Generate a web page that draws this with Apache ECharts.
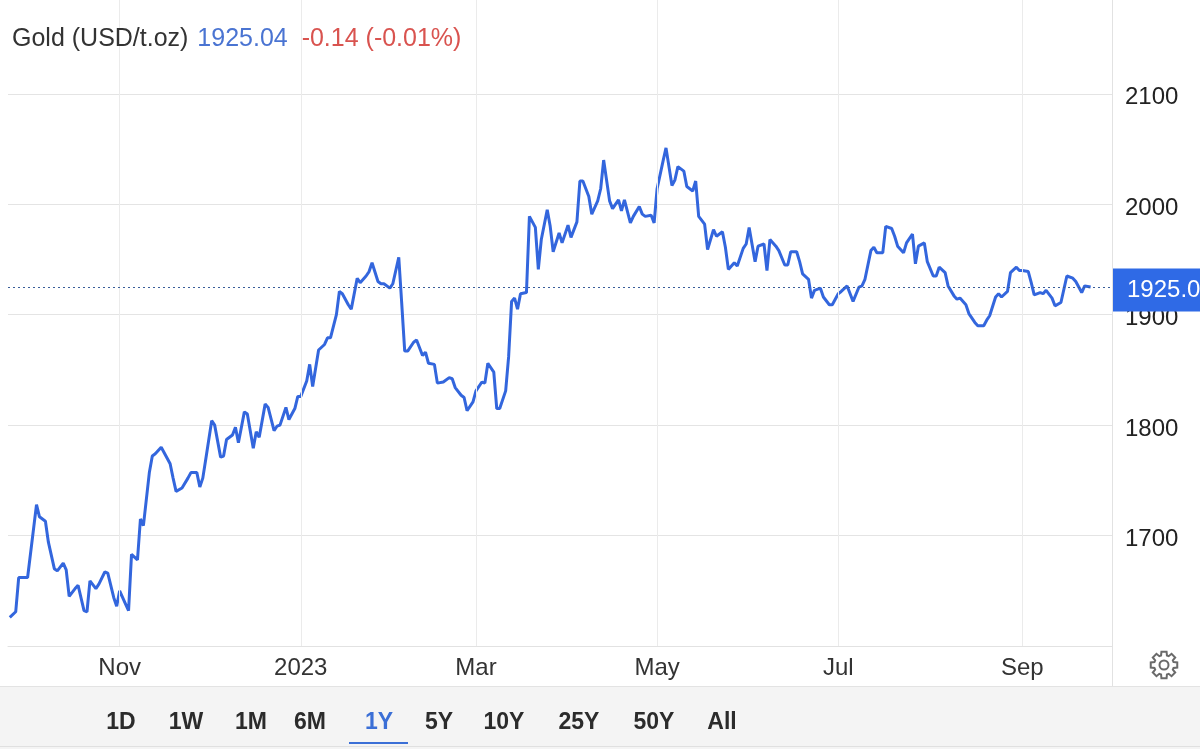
<!DOCTYPE html>
<html>
<head>
<meta charset="utf-8">
<title>Gold (USD/t.oz)</title>
<script src="https://cdn.jsdelivr.net/npm/echarts@6/dist/echarts.min.js"></script>
<style>
  html, body { margin: 0; padding: 0; background: #fff; }
  #chart { width: 1200px; height: 749px; }
</style>
</head>
<body>
<div id="chart"></div>
<script>
// price data
const dates = [
  "2022-09-25","2022-09-27","2022-09-28","2022-10-01","2022-10-04","2022-10-05","2022-10-07","2022-10-08",
  "2022-10-10","2022-10-11","2022-10-13","2022-10-14","2022-10-15","2022-10-17","2022-10-18","2022-10-20",
  "2022-10-21","2022-10-22","2022-10-24","2022-10-25","2022-10-27","2022-10-28","2022-10-30","2022-10-31",
  "2022-11-01","2022-11-03","2022-11-04","2022-11-05","2022-11-07","2022-11-08","2022-11-09","2022-11-11",
  "2022-11-12","2022-11-13","2022-11-15","2022-11-16","2022-11-18","2022-11-19","2022-11-20","2022-11-22",
  "2022-11-24","2022-11-25","2022-11-27","2022-11-28","2022-11-29","2022-11-30","2022-12-02","2022-12-03",
  "2022-12-05","2022-12-06","2022-12-07","2022-12-09","2022-12-10","2022-12-11","2022-12-13","2022-12-14",
  "2022-12-16","2022-12-17","2022-12-18","2022-12-20","2022-12-21","2022-12-23","2022-12-24","2022-12-25",
  "2022-12-27","2022-12-28","2022-12-30","2022-12-31","2023-01-01","2023-01-03","2023-01-04","2023-01-05",
  "2023-01-07","2023-01-09","2023-01-10","2023-01-11","2023-01-13","2023-01-14","2023-01-15","2023-01-17",
  "2023-01-18","2023-01-20","2023-01-21","2023-01-23","2023-01-24","2023-01-25","2023-01-27","2023-01-28",
  "2023-01-29","2023-01-31","2023-02-01","2023-02-03","2023-02-04","2023-02-05","2023-02-06","2023-02-08",
  "2023-02-09","2023-02-11","2023-02-12","2023-02-13","2023-02-15","2023-02-16","2023-02-18","2023-02-20",
  "2023-02-21","2023-02-22","2023-02-24","2023-02-25","2023-02-26","2023-02-28","2023-03-01","2023-03-03",
  "2023-03-04","2023-03-05","2023-03-07","2023-03-08","2023-03-09","2023-03-11","2023-03-12","2023-03-13",
  "2023-03-14","2023-03-15","2023-03-16","2023-03-18","2023-03-19","2023-03-21","2023-03-22","2023-03-23",
  "2023-03-25","2023-03-26","2023-03-27","2023-03-29","2023-03-30","2023-04-01","2023-04-02","2023-04-04",
  "2023-04-05","2023-04-06","2023-04-08","2023-04-09","2023-04-11","2023-04-12","2023-04-13","2023-04-15",
  "2023-04-16","2023-04-18","2023-04-19","2023-04-20","2023-04-22","2023-04-23","2023-04-25","2023-04-26",
  "2023-04-27","2023-04-29","2023-04-30","2023-05-01","2023-05-03","2023-05-04","2023-05-06","2023-05-07",
  "2023-05-08","2023-05-10","2023-05-11","2023-05-13","2023-05-14","2023-05-15","2023-05-17","2023-05-18",
  "2023-05-20","2023-05-21","2023-05-23","2023-05-24","2023-05-25","2023-05-27","2023-05-28","2023-05-30",
  "2023-05-31","2023-06-01","2023-06-03","2023-06-04","2023-06-06","2023-06-07","2023-06-08","2023-06-10",
  "2023-06-11","2023-06-13","2023-06-14","2023-06-15","2023-06-17","2023-06-18","2023-06-19","2023-06-21",
  "2023-06-22","2023-06-23","2023-06-25","2023-06-26","2023-06-28","2023-06-29","2023-07-01","2023-07-02",
  "2023-07-04","2023-07-05","2023-07-06","2023-07-08","2023-07-09","2023-07-10","2023-07-12","2023-07-13",
  "2023-07-14","2023-07-16","2023-07-17","2023-07-19","2023-07-20","2023-07-21","2023-07-23","2023-07-24",
  "2023-07-26","2023-07-27","2023-07-28","2023-07-30","2023-07-31","2023-08-02","2023-08-03","2023-08-04",
  "2023-08-06","2023-08-07","2023-08-09","2023-08-10","2023-08-11","2023-08-13","2023-08-14","2023-08-16",
  "2023-08-17","2023-08-19","2023-08-20","2023-08-21","2023-08-23","2023-08-24","2023-08-25","2023-08-27",
  "2023-08-28","2023-08-30","2023-08-31","2023-09-01","2023-09-03","2023-09-04","2023-09-05","2023-09-07",
  "2023-09-08","2023-09-09","2023-09-11","2023-09-12","2023-09-14","2023-09-15","2023-09-16","2023-09-18",
  "2023-09-19","2023-09-21","2023-09-22","2023-09-24"
];
const prices = [
  1626,1631,1662,1662,1728,1717,1713,1694,
  1670,1668,1675,1669,1645,1652,1655,1632,
  1631,1659,1652,1656,1667,1666,1644,1636,
  1650,1638,1632,1683,1678,1715,1709,1757,
  1772,1774,1780,1775,1765,1752,1740,1743,
  1752,1757,1757,1744,1752,1769,1804,1800,
  1771,1772,1787,1791,1798,1784,1812,1810,
  1779,1794,1789,1819,1816,1795,1799,1800,
  1816,1805,1815,1826,1826,1840,1855,1835,
  1868,1873,1879,1879,1900,1921,1919,1909,
  1905,1933,1929,1935,1939,1947,1930,1928,
  1928,1924,1928,1952,1910,1867,1867,1875,
  1877,1863,1866,1856,1855,1838,1839,1843,
  1842,1834,1827,1825,1813,1821,1831,1839,
  1838,1856,1848,1815,1815,1831,1862,1912,
  1915,1905,1919,1920,1989,1979,1941,1968,
  1995,1980,1957,1974,1965,1981,1970,1984,
  2021,2021,2007,1991,2003,2014,2040,2003,
  1996,2004,1994,2004,1983,1989,1998,1991,
  1989,1990,1983,2014,2039,2051,2017,2022,
  2034,2030,2016,2012,2021,1989,1982,1959,
  1977,1971,1975,1961,1941,1947,1944,1960,
  1964,1979,1948,1962,1964,1940,1968,1962,
  1958,1945,1945,1957,1957,1948,1937,1932,
  1915,1922,1924,1916,1909,1909,1919,1921,
  1926,1919,1912,1925,1926,1932,1958,1961,
  1956,1956,1980,1978,1971,1962,1956,1965,
  1973,1946,1962,1965,1948,1935,1935,1943,
  1938,1926,1917,1914,1915,1909,1901,1893,
  1890,1890,1895,1899,1916,1919,1916,1921,
  1938,1943,1940,1940,1939,1929,1918,1920,
  1919,1922,1915,1908,1911,1923,1935,1933,
  1930,1920,1926,1925.04
];
const lastPrice = 1925.04;
const changeText = "-0.14 (-0.01%)";
const tickDates = ["2022-11-01", "2023-01-01", "2023-03-01", "2023-05-01", "2023-07-01", "2023-09-01"];
const tickLabels = ["Nov", "2023", "Mar", "May", "Jul", "Sep"];
const yTicks = [1700, 1800, 1900, 2000, 2100];
const ranges = ["1D", "1W", "1M", "6M", "1Y", "5Y", "10Y", "25Y", "50Y", "All"];
const activeRange = "1Y";

const FONT = 'Arial, "Liberation Sans", Helvetica, sans-serif';
const DAY = 86400000;
const ts = s => {
  const p = s.split("-").map(Number);
  return new Date(p[0], p[1] - 1, p[2]).getTime();
};
const tickTimes = tickDates.map(ts);

const chart = echarts.init(document.getElementById("chart"));

// range buttons along the bottom bar
const rangeX = [121, 186, 251, 310, 379, 439, 504, 579, 654, 722];
const rangeEls = ranges.map((r, i) => ({
  type: "text",
  x: rangeX[i],
  y: 723,
  z: 5,
  style: {
    text: r,
    align: "center",
    verticalAlign: "middle",
    fontSize: 23,
    fontWeight: "bold",
    fontFamily: FONT,
    fill: r === activeRange ? "#3b6fd6" : "#2b2b2b"
  }
}));
const activeIdx = ranges.indexOf(activeRange);

// settings gear outline
const gearPts = [];
for (let k = 0; k < 8; k++) {
  const a = (k * 45) * Math.PI / 180;
  const d = Math.PI / 180;
  gearPts.push([Math.cos(a - 17 * d) * 10, Math.sin(a - 17 * d) * 10]);
  gearPts.push([Math.cos(a - 11 * d) * 13.5, Math.sin(a - 11 * d) * 13.5]);
  gearPts.push([Math.cos(a + 11 * d) * 13.5, Math.sin(a + 11 * d) * 13.5]);
  gearPts.push([Math.cos(a + 17 * d) * 10, Math.sin(a + 17 * d) * 10]);
}

const option = {
  animation: false,
  backgroundColor: "#fff",
  title: {
    left: 12,
    top: 27,
    padding: 0,
    text: "{n|Gold (USD/t.oz)} {p|" + lastPrice.toFixed(2) + "}  {c|" + changeText + "}",
    textStyle: {
      fontSize: 25,
      fontWeight: "normal",
      fontFamily: FONT,
      rich: {
        n: { fontSize: 25, fontWeight: "normal", color: "#333", fontFamily: FONT },
        p: { fontSize: 25, fontWeight: "normal", color: "#4a74d2", fontFamily: FONT, padding: [0, 0, 0, 2] },
        c: { fontSize: 25, fontWeight: "normal", color: "#d9534f", fontFamily: FONT }
      }
    }
  },
  grid: { left: 8, right: 88, top: 0, bottom: 103 },
  xAxis: {
    type: "value",
    min: ts("2022-09-24") + 0.4 * DAY,
    max: ts("2023-10-01") + 0.2 * DAY,
    axisLine: { show: true, lineStyle: { color: "#e2e2e2", width: 1 } },
    axisTick: { show: false },
    splitLine: { show: false },
    axisLabel: {
      customValues: tickTimes,
      margin: 10,
      color: "#333",
      fontSize: 24,
      fontFamily: FONT,
      formatter: function (val) {
        const i = tickTimes.indexOf(val);
        return i >= 0 ? tickLabels[i] : "";
      }
    }
  },
  yAxis: {
    type: "value",
    position: "right",
    min: 1600,
    max: 2184.9,
    interval: 100,
    axisLine: { show: false },
    axisTick: { show: false },
    splitLine: { show: true, showMaxLine: false, lineStyle: { color: "#e4e4e4", width: 1 } },
    axisLabel: {
      margin: 13,
      color: "#222",
      fontSize: 24,
      fontFamily: FONT,
      showMaxLabel: false,
      formatter: v => (yTicks.indexOf(v) >= 0 ? "{v|" + v + "}" : ""),
      rich: {
        v: { fontSize: 24, color: "#222", fontFamily: FONT, padding: [8, 0, 0, 0] }
      }
    }
  },
  series: [
    {
      // month grid lines, kept under the price line
      type: "line",
      data: [],
      z: 1,
      silent: true,
      markLine: {
        silent: true,
        symbol: "none",
        label: { show: false },
        lineStyle: { type: "solid", color: "#ebebeb", width: 1 },
        data: tickTimes.map(t => ({ xAxis: t }))
      }
    },
    {
      type: "line",
      data: dates.map((d, i) => [ts(d), prices[i]]),
      showSymbol: false,
      symbol: "none",
      lineStyle: { color: "#3366dd", width: 3 },
      z: 3,
      markLine: {
        silent: true,
        symbol: "none",
        lineStyle: { type: [2, 3], color: "#3a5f9a", width: 1.2 },
        label: {
          position: "end",
          distance: 1,
          offset: [0, 3],
          formatter: lastPrice.toFixed(2),
          color: "#fff",
          fontSize: 24,
          fontFamily: FONT,
          backgroundColor: "#2f6ae6",
          padding: [9, 14, 9, 14],
          lineHeight: 25
        },
        data: [{ yAxis: lastPrice }]
      }
    }
  ],
  graphic: [
    // right divider next to the price scale
    { type: "line", shape: { x1: 1112.5, y1: 0, x2: 1112.5, y2: 686 }, style: { stroke: "#e2e2e2", lineWidth: 1 }, z: 1 },
    // bottom bar with range selection
    { type: "rect", shape: { x: 0, y: 686, width: 1200, height: 63 }, style: { fill: "#f4f4f4" }, z: 1 },
    { type: "line", shape: { x1: 0, y1: 686.5, x2: 1200, y2: 686.5 }, style: { stroke: "#e3e3e3", lineWidth: 1 }, z: 2 },
    { type: "line", shape: { x1: 0, y1: 746.5, x2: 1200, y2: 746.5 }, style: { stroke: "#e0e0e0", lineWidth: 1 }, z: 2 },
    { type: "rect", shape: { x: rangeX[activeIdx] - 30, y: 742, width: 59, height: 2 }, style: { fill: "#3b6fd6" }, z: 3 }
  ].concat(rangeEls).concat([
    {
      type: "group",
      x: 1164,
      y: 665,
      children: [
        { type: "polygon", z: 5, shape: { points: gearPts }, style: { fill: "none", stroke: "#6a6a6a", lineWidth: 2 } },
        { type: "circle", z: 5, shape: { cx: 0, cy: 0, r: 4.5 }, style: { fill: "none", stroke: "#6a6a6a", lineWidth: 2 } }
      ]
    }
  ])
};

chart.setOption(option);
</script>
</body>
</html>
